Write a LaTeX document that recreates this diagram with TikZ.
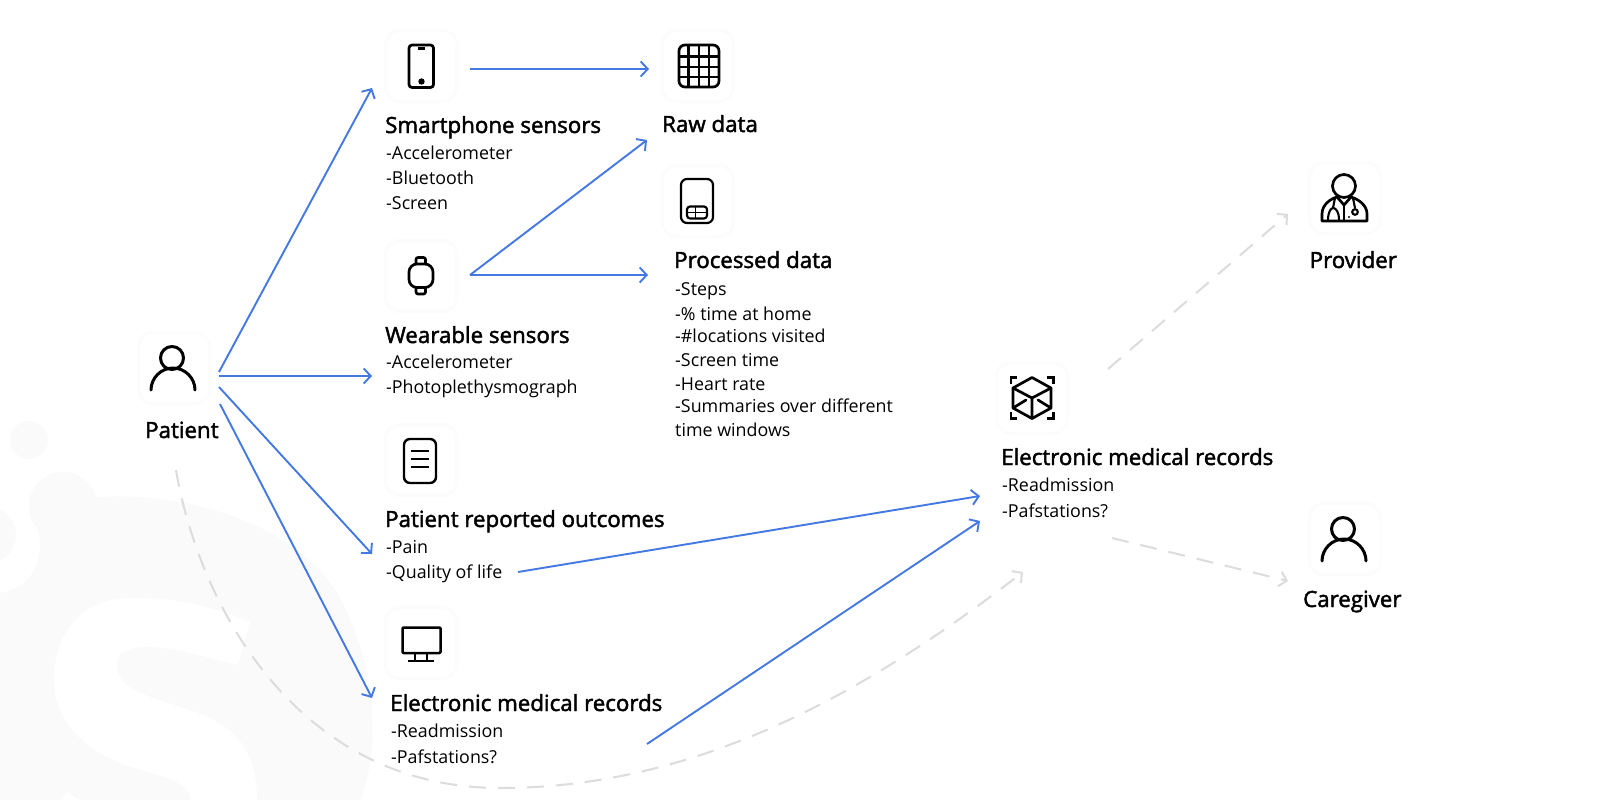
\documentclass[tikz,border=0pt]{standalone}
\usepackage{fontspec}
\setmainfont{Open Sans}
\newfontfamily\semib[FakeBold=2]{Open Sans}
\usetikzlibrary{arrows.meta}
\definecolor{flow}{HTML}{4479E3}
\definecolor{ghost}{HTML}{DCDCDC}
\definecolor{wmark}{HTML}{FAFAFB}
\definecolor{cardedge}{HTML}{FCFCFC}
\tikzset{x=1pt,y=-1pt,
  card/.style={draw=cardedge,line width=3pt,fill=white,rounded corners=14pt,minimum width=71pt,minimum height=71pt,inner sep=0pt},
  icon/.style={draw=black,line width=2.7pt,line join=round,line cap=round},
  ttl/.style={anchor=base west,inner sep=0pt,font=\semib\fontsize{22.3}{26}\selectfont,text=black},
  sub/.style={anchor=base west,inner sep=0pt,font=\fontsize{17.85}{24}\selectfont,text=black},
  flowar/.style={draw=flow,line width=1.9pt,-{Straight Barb[length=7pt,width=15pt,line width=1.9pt]}},
  ghostar/.style={draw=ghost,line width=2pt,dash pattern=on 17pt off 12pt,-{Straight Barb[length=7pt,width=15pt,line width=2pt]}},
  pics/person/.style={code={
    \draw[icon,line width=3pt] (-2,-10) circle (11.5);
    \draw[icon,line width=3pt] (-23,22) .. controls (-23,10) and (-13,0) .. (-1,0) .. controls (11,0) and (21,10) .. (21,22);
  }},
}
\begin{document}
\begin{tikzpicture}
\useasboundingbox (0,0) rectangle (1600,800);
\fill[white] (0,0) rectangle (1600,800);
% watermark
\fill[wmark] (29,440) circle (19);
\fill[wmark] (63,506) circle (34);
\fill[wmark] (-12,535) circle (28);
\fill[wmark] (0,593) .. controls (25,590) and (40,570) .. (40,545) .. controls (40,530) and (35,520) .. (30,510) -- (98,497) .. controls (180,492) and (290,520) .. (335,590) .. controls (365,640) and (375,700) .. (372,745) .. controls (370,770) and (365,790) .. (360,800) -- (0,800) -- cycle;
\fill[white] (250,622) .. controls (210,605) and (170,597) .. (130,598) .. controls (85,598) and (54,630) .. (54,680) .. controls (54,725) and (90,752) .. (125,765) .. controls (160,777) and (190,780) .. (190,800) -- (257,800) .. controls (257,750) and (235,725) .. (190,710) .. controls (150,697) and (117,690) .. (117,665) .. controls (117,650) and (130,647) .. (150,647) .. controls (180,648) and (215,660) .. (238,665) -- cycle;
\fill[white] (60,800) -- (67,792) -- (80,800) -- cycle;
% cards
\node[card] (patient) at (174,368) {};
\node[card] (phone) at (421,66) {};
\node[card] (watch) at (421,276) {};
\node[card] (pro) at (421,460) {};
\node[card] (emrl) at (421,643) {};
\node[card] (raw) at (698,66) {};
\node[card] (proc) at (698,201) {};
\node[card] (emrr) at (1032,398) {};
\node[card] (prov) at (1345,198) {};
\node[card] (care) at (1345,539) {};
% icons
\pic at (174,368) {person};
\pic at (1345,539) {person};
% phone
\draw[icon,rounded corners=3pt] (409,45) rectangle (433.5,87.5);
\draw[icon,line width=3pt,line cap=butt] (417.5,48.5) -- (424.5,48.5);
\fill (421.5,81.5) circle (3.2);
% grid
\draw[icon,rounded corners=6pt] (679,45) rectangle (719,87);
\draw[icon,line width=2.1pt,line cap=butt] (688.5,45) -- (688.5,87) (699,45) -- (699,87) (709,45) -- (709,87)
  (679,56.5) -- (719,56.5) (679,66.8) -- (719,66.8) (679,77) -- (719,77);
% processed
\draw[icon,line width=2.2pt,rounded corners=6pt] (681,179) rectangle (713,223);
\draw[icon,line width=2.2pt,rounded corners=3pt] (687,206.5) rectangle (707,218.5);
\draw[icon,line width=1.9pt,line cap=butt] (687,212.5) -- (707,212.5) (695.5,206.5) -- (695.5,218.5);
% watch
\draw[icon,rounded corners=8pt] (409,264) rectangle (433,287.5);
\draw[icon,rounded corners=2pt] (416,264) -- (416,257.5) -- (425.5,257.5) -- (425.5,264);
\draw[icon,rounded corners=2pt] (416,287.5) -- (416,294) -- (425.5,294) -- (425.5,287.5);
% document
\draw[icon,line width=2.4pt,rounded corners=6pt] (404,439) rectangle (436,483);
\draw[icon,line cap=butt,line width=2.1pt] (411,451) -- (429,451) (411,459) -- (429,459) (411,467) -- (429,467);
% monitor
\draw[icon,line width=2.5pt,rounded corners=1pt] (402.5,627.5) rectangle (440.5,653);
\draw[icon,line width=2.4pt,line cap=butt] (415,653) -- (415,661) (427,653) -- (427,661);
\draw[icon,line width=2.4pt,line cap=butt] (408,661) -- (434,661);
% cube
\draw[icon] (1032,377.5) -- (1051,388) -- (1051,408) -- (1032,418.5) -- (1013,408) -- (1013,388) -- cycle;
\draw[icon] (1013,388) -- (1032,398) -- (1051,388) (1032,398) -- (1032,418.5) (1013,408) -- (1026,400) (1051,408) -- (1038,400);
\draw[icon,line cap=butt,line join=miter,line width=2.6pt] (1011,384) -- (1011,377.5) -- (1017,377.5) (1047,377.5) -- (1053.5,377.5) -- (1053.5,384)
  (1011,412) -- (1011,418.5) -- (1017,418.5) (1047,418.5) -- (1053.5,418.5) -- (1053.5,412);
% doctor
\draw[icon] (1344,186) circle (11.5);
\draw[icon] (1322,221) -- (1322,214) .. controls (1322,205) and (1330,199) .. (1337,197) -- (1344,205) -- (1351,197) .. controls (1358,199) and (1367,205) .. (1367,214) -- (1367,221) -- cycle;
\draw[icon,line width=2.1pt] (1344,205) -- (1344,221);
\draw[icon,line width=2.1pt] (1328,220) .. controls (1328,212) and (1331,208) .. (1333,208) .. controls (1336,208) and (1339,212) .. (1339,220) (1333,208) -- (1335,198);
\draw[icon,line width=2.1pt] (1353,198) -- (1355,208);
\draw[icon,line width=2.1pt] (1355,212) circle (2.8);
\fill (1349,217) circle (1.2);
% titles and lists
\node[ttl] (tpatient) at (145,438) {Patient};
\node[ttl] (tphone) at (385,133) {Smartphone sensors};
\node[sub] (a1) at (386,159) {-Accelerometer};
\node[sub] (a2) at (386,184) {-Bluetooth};
\node[sub] (a3) at (386,209) {-Screen};
\node[ttl] (twatch) at (385,343) {Wearable sensors};
\node[sub] (b1) at (386,368) {-Accelerometer};
\node[sub] (b2) at (386,393) {-Photoplethysmograph};
\node[ttl] (tpro) at (385,527) {Patient reported outcomes};
\node[sub] (c1) at (386,553) {-Pain};
\node[sub] (c2) at (386,578) {-Quality of life};
\node[ttl] (temrl) at (390,711) {Electronic medical records};
\node[sub] (d1) at (391,737) {-Readmission};
\node[sub] (d2) at (391,763) {-Pafstations?};
\node[ttl] (traw) at (662,132) {Raw data};
\node[ttl] (tproc) at (674,268) {Processed data};
\node[sub] (e1) at (675,295) {-Steps};
\node[sub] (e2) at (675,320) {-\% time at home};
\node[sub] (e3) at (675,342) {-\#locations visited};
\node[sub] (e4) at (675,366) {-Screen time};
\node[sub] (e5) at (675,390) {-Heart rate};
\node[sub] (e6) at (675,412) {-Summaries over different};
\node[sub] (e7) at (675,436) {time windows};
\node[ttl] (temrr) at (1001,465) {Electronic medical records};
\node[sub] (f1) at (1002,491) {-Readmission};
\node[sub] (f2) at (1002,517) {-Pafstations?};
\node[ttl] (tprov) at (1309.5,268) {Provider};
\node[ttl] (tcare) at (1303,607) {Caregiver};
% connector ends
\coordinate (p1) at (219,372);
\coordinate (p2) at (219,376);
\coordinate (p3) at (219,387);
\coordinate (p4) at (220,404);
\coordinate (phoneIn) at (372,88);
\coordinate (watchIn) at (372,376);
\coordinate (proIn) at (372,554);
\coordinate (emrlIn) at (372,698);
\coordinate (phoneOut) at (470,69);
\coordinate (rawIn) at (649,69);
\coordinate (watchOut) at (470,275);
\coordinate (rawIn2) at (647,140);
\coordinate (procIn) at (648,275);
\coordinate (proOut) at (518,572);
\coordinate (emrrIn1) at (980,496);
\coordinate (emrlOut) at (647,744);
\coordinate (emrrIn2) at (980,521);
\coordinate (patDash) at (176,470);
\coordinate (emrrIn3) at (1023,572);
\coordinate (emrrUp) at (1108,369);
\coordinate (provIn) at (1288,214);
\coordinate (emrrDown) at (1112,538);
\coordinate (careIn) at (1288,581);
% connectors
\draw[flowar] (p1) -- (phoneIn);
\draw[flowar] (p2) -- (watchIn);
\draw[flowar] (p3) -- (proIn);
\draw[flowar] (p4) -- (emrlIn);
\draw[flowar] (phoneOut) -- (rawIn);
\draw[flowar] (watchOut) -- (rawIn2);
\draw[flowar] (watchOut) -- (procIn);
\draw[flowar] (proOut) -- (emrrIn1);
\draw[flowar] (emrlOut) -- (emrrIn2);
\draw[ghostar] (patDash) .. controls (200,610) and (300,788) .. (500,788) .. controls (700,788) and (870,690) .. (emrrIn3);
\draw[ghostar] (emrrUp) -- (provIn);
\draw[ghostar] (emrrDown) -- (careIn);
\end{tikzpicture}
\end{document}
